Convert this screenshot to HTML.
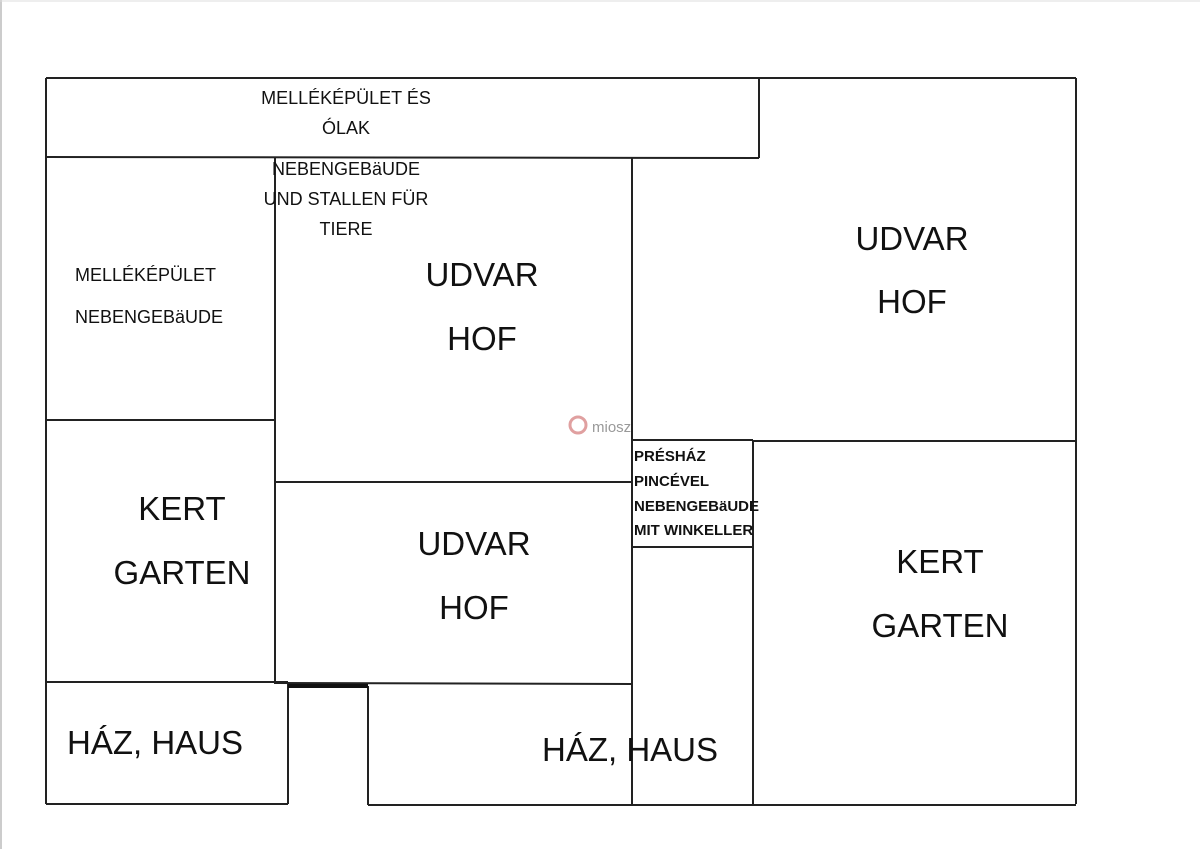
<!DOCTYPE html>
<html><head><meta charset="utf-8"><style>
body{margin:0;background:#fff;}
svg{display:block}
text{font-family:"Liberation Sans","DejaVu Sans",sans-serif;fill:#111}
</style></head><body>
<svg width="1200" height="849" viewBox="0 0 1200 849" xmlns="http://www.w3.org/2000/svg">
<rect x="0" y="0" width="1200" height="849" fill="#fff"/>
<line x1="1" y1="0" x2="1" y2="849" stroke="#ccc" stroke-width="2"/>
<line x1="0" y1="1" x2="1200" y2="1" stroke="#ddd" stroke-width="1"/>
<g stroke="#222" stroke-width="2" fill="none">
<line x1="46" y1="78" x2="1076" y2="78"/>
<line x1="46" y1="78" x2="46" y2="804"/>
<line x1="1076" y1="78" x2="1076" y2="804"/>
<line x1="759" y1="78" x2="759" y2="158"/>
<line x1="46" y1="157" x2="759" y2="158"/>
<line x1="275" y1="158" x2="275" y2="684"/>
<line x1="632" y1="158" x2="632" y2="804"/>
<line x1="46" y1="420" x2="275" y2="420"/>
<line x1="275" y1="482" x2="632" y2="482"/>
<line x1="275" y1="683" x2="632" y2="684"/>
<line x1="46" y1="682" x2="288" y2="682"/>
<line x1="288" y1="682" x2="288" y2="804"/>
<line x1="46" y1="804" x2="288" y2="804"/>
<line x1="368" y1="686" x2="368" y2="805"/>
<line x1="368" y1="805" x2="1076" y2="805"/>
<line x1="632" y1="440" x2="753" y2="440"/>
<line x1="632" y1="547" x2="753" y2="547"/>
<line x1="753" y1="440" x2="753" y2="805"/>
<line x1="753" y1="441" x2="1076" y2="441"/>
</g>
<line x1="288" y1="686" x2="368" y2="686" stroke="#111" stroke-width="4"/>
<g font-size="18" text-anchor="middle">
<text x="346" y="104">MELLÉKÉPÜLET ÉS</text>
<text x="346" y="134">ÓLAK</text>
<text x="346" y="175">NEBENGEBäUDE</text>
<text x="346" y="205">UND STALLEN FÜR</text>
<text x="346" y="235">TIERE</text>
</g>
<g font-size="18">
<text x="75" y="281">MELLÉKÉPÜLET</text>
<text x="75" y="323">NEBENGEBäUDE</text>
</g>
<g font-size="33" text-anchor="middle">
<text x="482" y="286">UDVAR</text>
<text x="482" y="350">HOF</text>
<text x="912" y="250">UDVAR</text>
<text x="912" y="313">HOF</text>
<text x="474" y="555">UDVAR</text>
<text x="474" y="619">HOF</text>
<text x="182" y="520">KERT</text>
<text x="182" y="584">GARTEN</text>
<text x="940" y="573">KERT</text>
<text x="940" y="637">GARTEN</text>
<text x="155" y="754">HÁZ, HAUS</text>
<text x="630" y="761">HÁZ, HAUS</text>
</g>
<g font-size="15" font-weight="bold">
<text x="634" y="461">PRÉSHÁZ</text>
<text x="634" y="486">PINCÉVEL</text>
<text x="634" y="511">NEBENGEBäUDE</text>
<text x="634" y="535">MIT WINKELLER</text>
</g>
<circle cx="578" cy="425" r="8" fill="none" stroke="#e0a0a0" stroke-width="3"/>
<text x="592" y="432" font-size="15" style="fill:#999">miosz</text>
</svg>
</body></html>
